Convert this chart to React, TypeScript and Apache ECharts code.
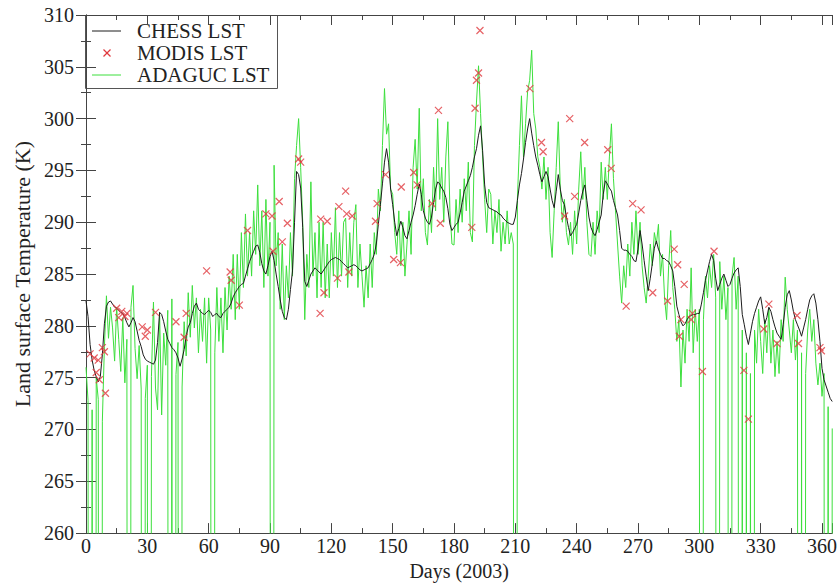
import React, { useEffect, useRef } from "react";
import * as echarts from "echarts";

// CHESS LST, one value per day (day = index, 0..365)
const chessLST: number[] = [
  282.4, 280.9, 278.2, 276.7, 275.7, 275.1, 274.6, 275.1, 277.2, 280.2,
  281.9, 282.3, 282.4, 282.1, 281.8, 281.7, 281.5, 281.3, 281.2, 280.8,
  280.3, 279.9, 280.3, 280.8, 280.4, 279.5, 278.6, 278.0, 277.2, 276.8,
  276.6, 276.5, 276.4, 276.3, 276.7, 278.4, 281.3, 281.1, 280.4, 279.5,
  278.7, 278.3, 277.9, 277.7, 277.4, 276.9, 276.1, 276.8, 277.7, 279.0,
  279.9, 280.3, 281.2, 281.9, 282.2, 281.6, 281.4, 281.2, 281.1, 281.3,
  281.5, 281.3, 280.9, 281.1, 281.2, 280.9, 280.8, 281.2, 281.4, 281.6,
  281.8, 282.2, 282.8, 283.2, 283.5, 283.8, 284.0, 284.1, 284.8, 285.5,
  286.2, 286.7, 287.2, 287.7, 287.8, 287.1, 286.0, 285.3, 285.0, 285.8,
  286.7, 287.2, 286.3, 285.0, 283.8, 282.5, 281.4, 280.8, 280.6, 281.6,
  283.5, 285.3, 290.0, 294.9, 294.6, 293.3, 289.5, 284.3, 283.8, 284.4,
  285.0, 285.3, 285.6, 285.4, 285.2, 285.0, 285.3, 285.6, 285.9, 286.2,
  286.4, 286.5, 286.6, 286.5, 286.4, 286.2, 286.0, 285.8, 285.6, 285.7,
  285.8, 285.9, 285.8, 285.6, 285.4, 285.3, 285.4, 285.5, 285.6, 286.0,
  286.4, 286.9, 287.9, 289.8, 291.7, 293.7, 295.8, 297.1, 295.8, 293.2,
  291.7, 290.0, 288.7, 289.4, 290.1, 289.5, 288.7, 288.4, 289.2, 290.0,
  290.7, 291.6, 292.7, 293.7, 292.7, 291.1, 290.4, 290.0, 289.8, 290.5,
  291.9, 293.2, 293.9, 293.7, 293.3, 293.0, 292.4, 291.3, 289.8, 289.2,
  289.5, 289.8, 290.0, 290.9, 291.9, 293.0, 293.5, 294.0, 294.5, 295.3,
  296.3, 297.1, 298.4, 299.3, 296.9, 293.6, 291.9, 291.4, 291.3, 291.2,
  291.1, 291.0, 290.8, 290.7, 290.4, 290.2, 290.0, 289.9, 289.8, 289.8,
  290.5, 292.1, 293.6, 294.7, 296.1, 297.7, 299.0, 300.0, 298.6, 297.4,
  296.3, 295.5, 294.6, 293.9, 294.4, 294.9, 294.4, 293.2, 292.1, 291.4,
  293.0, 294.6, 293.2, 292.1, 291.7, 290.5, 289.5, 288.7, 289.0, 289.4,
  289.8, 290.9, 292.1, 293.0, 293.6, 292.1, 290.5, 289.5, 289.0, 288.7,
  289.3, 290.0, 290.7, 292.7, 294.0, 293.7, 293.3, 293.0, 292.1, 291.4,
  290.7, 289.2, 287.5, 287.3, 287.3, 287.2, 286.9, 286.7, 286.3, 286.2,
  287.4, 289.2, 287.9, 286.3, 284.8, 283.4, 284.6, 286.0, 287.5, 288.2,
  287.4, 286.9, 286.5, 286.5, 286.3, 286.2, 285.8, 285.3, 283.8, 281.9,
  281.1, 280.4, 280.0, 280.2, 280.6, 280.9, 281.0, 281.1, 281.1, 281.2,
  281.2, 282.1, 283.2, 284.4, 285.3, 286.2, 286.9, 286.3, 284.6, 283.4,
  284.0, 284.6, 285.0, 284.4, 283.8, 284.0, 284.6, 285.1, 285.4, 285.6,
  283.8, 281.1, 280.1, 279.0, 278.2, 279.3, 280.4, 281.2, 281.8, 282.4,
  282.8, 281.6, 280.2, 280.8, 281.8, 281.4, 280.6, 279.9, 279.3, 279.0,
  278.7, 280.1, 281.8, 283.0, 283.4, 282.5, 281.4, 280.6, 280.1, 279.6,
  279.0, 279.8, 280.6, 281.6, 282.5, 282.9, 283.1, 282.2, 280.6, 278.5,
  275.9, 274.8, 274.2, 273.6, 273.0, 272.7,
];

// ADAGUC LST, one value per day (day = index); 0 is the product's fill value (no data)
const adagucLST: number[] = [
  276.0, 272.8, 0, 271.9, 0, 275.0, 272.9, 0, 270.8, 278.0,
  282.9, 278.8, 281.8, 279.8, 276.6, 281.8, 278.7, 275.6, 280.8, 274.5,
  278.7, 0, 281.8, 283.9, 277.8, 274.9, 278.1, 273.9, 0, 273.0,
  276.2, 0, 275.1, 282.3, 274.0, 271.9, 281.3, 271.4, 279.3, 276.2,
  281.5, 0, 282.6, 0, 275.3, 278.4, 0, 274.1, 280.4, 277.1,
  283.2, 278.9, 283.9, 279.8, 282.7, 277.4, 281.6, 278.5, 282.7, 276.4,
  282.7, 279.6, 0, 277.4, 283.7, 278.5, 282.7, 277.4, 283.7, 279.6,
  284.8, 281.6, 286.9, 280.6, 286.9, 281.6, 289.0, 283.7, 290.8, 284.8,
  289.0, 284.8, 291.1, 286.9, 293.6, 285.8, 291.1, 283.7, 292.2, 284.8,
  290.0, 0, 295.5, 285.8, 289.0, 281.6, 287.9, 280.6, 285.8, 282.7,
  289.0, 284.8, 294.2, 297.4, 300.0, 295.3, 290.0, 280.6, 286.9, 283.7,
  293.9, 284.8, 289.0, 282.7, 290.0, 283.7, 290.0, 282.7, 287.9, 282.7,
  289.0, 284.8, 291.4, 283.7, 289.0, 284.8, 290.0, 290.4, 283.7, 289.0,
  284.8, 290.0, 291.7, 283.7, 287.9, 284.8, 281.8, 285.8, 282.7, 287.9,
  283.7, 289.0, 286.9, 293.2, 291.1, 297.4, 302.9, 298.5, 299.5, 293.2,
  292.7, 289.0, 286.9, 291.1, 285.8, 290.0, 284.8, 287.9, 291.1, 286.9,
  295.3, 298.0, 293.2, 301.0, 291.1, 294.2, 289.0, 287.8, 292.2, 289.0,
  295.3, 291.1, 300.0, 292.2, 295.3, 290.0, 296.3, 299.7, 291.1, 287.9,
  287.8, 292.2, 289.0, 293.2, 290.0, 294.2, 291.1, 295.8, 289.0, 288.1,
  297.4, 301.6, 305.1, 300.5, 296.3, 292.2, 289.0, 293.2, 292.7, 287.9,
  291.1, 289.0, 292.2, 287.2, 290.0, 287.9, 291.1, 287.9, 289.0, 287.9,
  0, 292.2, 297.4, 302.2, 296.3, 299.5, 302.6, 303.7, 306.6, 300.5,
  299.0, 296.3, 295.3, 293.2, 296.3, 292.2, 295.3, 289.0, 286.6, 291.1,
  295.3, 299.7, 293.2, 290.0, 292.2, 289.0, 287.8, 290.0, 286.9, 291.1,
  287.9, 293.2, 296.8, 292.2, 295.3, 290.0, 286.9, 286.7, 290.0, 286.9,
  291.1, 289.0, 295.8, 292.2, 295.3, 292.2, 296.3, 299.5, 294.2, 291.1,
  287.9, 284.8, 282.2, 285.8, 283.7, 287.9, 284.8, 290.0, 286.9, 291.1,
  286.9, 290.0, 285.8, 283.7, 282.2, 284.8, 287.9, 285.8, 289.0, 287.9,
  289.8, 284.8, 286.9, 282.7, 280.6, 285.8, 289.2, 283.7, 281.6, 278.5,
  280.6, 274.1, 279.6, 276.4, 281.6, 278.5, 285.6, 277.4, 281.6, 278.5,
  281.6, 0, 280.6, 284.8, 282.7, 285.8, 283.7, 286.9, 282.7, 0,
  286.2, 281.6, 284.8, 280.6, 283.7, 0, 284.8, 286.6, 281.6, 284.8,
  0, 279.6, 0, 277.4, 0, 275.4, 0, 279.6, 276.4, 281.6,
  278.5, 275.4, 280.6, 277.4, 281.6, 276.4, 279.6, 275.1, 278.5, 275.4,
  280.6, 278.5, 284.7, 281.6, 279.6, 277.4, 280.6, 276.7, 279.6, 0,
  277.4, 0, 275.4, 279.6, 281.6, 278.5, 280.6, 276.4, 274.3, 276.4,
  273.2, 275.4, 0, 272.2, 0, 270.1,
];

// MODIS LST overpasses (day of year, value)
const modisDays: number[] = [
  2, 4, 5, 6, 6.5, 8, 9, 9.5, 15, 16, 17.5, 19, 20, 27.5, 29, 30, 34, 44, 48, 49,
  59, 70.5, 71, 75, 79, 88, 91, 91.5, 94.5, 96, 98.5, 104, 105, 114.5, 114.8, 116.4, 118, 123, 123.7, 127,
  127.5, 128.6, 130.2, 141.6, 142.4, 146.5, 150.5, 153.8, 154.2, 160.3, 162, 169.2, 172.4, 173.3, 188.7, 190.3, 191, 192, 192.7, 217.1,
  222.8, 223.6, 234.1, 236.6, 239, 243.9, 255.2, 256.9, 264.2, 267.4, 271.5, 277.2, 284.5, 287.7, 289.4, 290.2, 291, 292.6, 296, 296.6,
  301.5, 307.2, 321.8, 324, 331.5, 334, 338, 347.8, 348.5, 359, 359.7,
];
const modisLST: number[] = [
  277.3, 276.9, 275.5, 276.7, 274.8, 277.9, 277.5, 273.5, 281.7, 280.8, 281.4, 280.9, 281.2, 279.9, 279.0, 279.6, 281.3, 280.4, 278.9, 281.2,
  285.3, 285.2, 284.4, 282.0, 289.2, 290.8, 290.6, 287.2, 292.0, 288.1, 289.9, 296.1, 295.8, 281.2, 290.3, 283.2, 290.1, 284.6, 291.5, 293.0,
  290.8, 285.2, 290.6, 290.1, 291.8, 294.6, 286.4, 286.1, 293.4, 294.8, 293.6, 291.8, 300.8, 289.9, 289.5, 301.0, 303.7, 304.4, 308.5, 302.9,
  297.7, 296.8, 290.6, 300.0, 292.5, 297.7, 297.0, 295.2, 281.9, 291.8, 291.2, 283.2, 282.4, 287.4, 285.9, 279.0, 280.6, 284.0, 280.6, 281.2,
  275.6, 287.2, 275.7, 271.0, 279.7, 282.1, 278.3, 281.0, 278.3, 277.9, 277.6,
];

const yTicks = { min: 260, max: 310, step: 5 };
const xTicks = { min: 0, max: 365, step: 30 };

const seriesNames = ["CHESS LST", "MODIS LST", "ADAGUC LST"];
const FONT = "'Liberation Serif', 'Times New Roman', serif";
const GREEN = "#3ddf3d";
const RED = "#e0393e";
const INK = "#1c1c1c";
const FRAME = "#444";

export default function App() {
  const ref = useRef<HTMLDivElement>(null);

  useEffect(() => {
    if (!ref.current) return;
    const chart = echarts.init(ref.current, undefined, { renderer: "svg" });

    const chessData = chessLST.map((v, i) => [i, v]);
    const adagucData = adagucLST.map((v, i) => [i, v]);
    const modisData = modisDays.map((d, i) => [d, modisLST[i]]);

    const axisLine = { show: true, lineStyle: { color: FRAME, width: 1 } };
    const tick = { show: true, inside: true, length: 10, lineStyle: { color: FRAME, width: 1 } };
    const minor = { show: true, splitNumber: 2, length: 5, lineStyle: { color: FRAME, width: 1 } };
    const label = { fontFamily: FONT, fontSize: 20, color: "#222" };

    const xBase = {
      type: "value" as const,
      min: xTicks.min,
      max: xTicks.max,
      interval: xTicks.step,
      axisLine,
      axisTick: tick,
      minorTick: minor,
      splitLine: { show: false },
      minorSplitLine: { show: false },
    };
    const yBase = {
      type: "value" as const,
      min: yTicks.min,
      max: yTicks.max,
      interval: yTicks.step,
      axisLine,
      axisTick: tick,
      minorTick: minor,
      splitLine: { show: false },
      minorSplitLine: { show: false },
    };

    chart.setOption({
      animation: false,
      backgroundColor: "#ffffff",
      grid: { left: 86, right: 5, top: 15, bottom: 39, containLabel: false },
      xAxis: [
        {
          ...xBase,
          position: "bottom",
          axisLabel: { ...label, margin: 3, showMaxLabel: false },
          name: "Days (2003)",
          nameLocation: "middle",
          nameGap: 20,
          nameTextStyle: { fontFamily: FONT, fontSize: 20, color: "#222" },
        },
        { ...xBase, position: "top", axisLabel: { show: false } },
      ],
      yAxis: [
        {
          ...yBase,
          position: "left",
          axisLabel: { ...label, margin: 12 },
          name: "Land surface Temperature (K)",
          nameLocation: "middle",
          nameGap: 49,
          nameTextStyle: { fontFamily: FONT, fontSize: 22, color: "#222" },
        },
        { ...yBase, position: "right", axisLabel: { show: false } },
      ],
      series: [
        {
          name: seriesNames[2],
          type: "line",
          data: adagucData,
          showSymbol: false,
          clip: true,
          lineStyle: { color: GREEN, width: 1 },
          z: 2,
        },
        {
          name: seriesNames[0],
          type: "line",
          data: chessData,
          showSymbol: false,
          clip: true,
          lineStyle: { color: INK, width: 1 },
          z: 3,
        },
        {
          name: seriesNames[1],
          type: "scatter",
          data: modisData,
          symbol: "path://M0,0L10,10M10,0L0,10",
          symbolSize: 7,
          clip: true,
          itemStyle: { color: "none", borderColor: RED, borderWidth: 1.2 },
          z: 4,
        },
      ],
      graphic: [
        {
          type: "group",
          z: 100,
          children: [
            {
              type: "rect",
              shape: { x: 85.5, y: 15.5, width: 192, height: 73 },
              style: { fill: "#ffffff", stroke: "#555", lineWidth: 1 },
            },
            { type: "line", shape: { x1: 92, y1: 31, x2: 121, y2: 31 }, style: { stroke: INK, lineWidth: 1 } },
            { type: "line", shape: { x1: 103.5, y1: 49.5, x2: 110.5, y2: 56.5 }, style: { stroke: RED, lineWidth: 1.2 } },
            { type: "line", shape: { x1: 110.5, y1: 49.5, x2: 103.5, y2: 56.5 }, style: { stroke: RED, lineWidth: 1.2 } },
            { type: "line", shape: { x1: 92, y1: 75, x2: 121, y2: 75 }, style: { stroke: GREEN, lineWidth: 1 } },
            {
              type: "text",
              x: 137,
              y: 31,
              style: { text: seriesNames[0], font: `21px ${FONT}`, fill: "#222", verticalAlign: "middle" },
            },
            {
              type: "text",
              x: 137,
              y: 53,
              style: { text: seriesNames[1], font: `21px ${FONT}`, fill: "#222", verticalAlign: "middle" },
            },
            {
              type: "text",
              x: 137,
              y: 75,
              style: { text: seriesNames[2], font: `21px ${FONT}`, fill: "#222", verticalAlign: "middle" },
            },
          ],
        },
      ],
    });

    return () => chart.dispose();
  }, []);

  return (
    <div
      ref={ref}
      style={{ position: "fixed", left: 0, top: 0, width: 840, height: 586, background: "#fff" }}
    />
  );
}
